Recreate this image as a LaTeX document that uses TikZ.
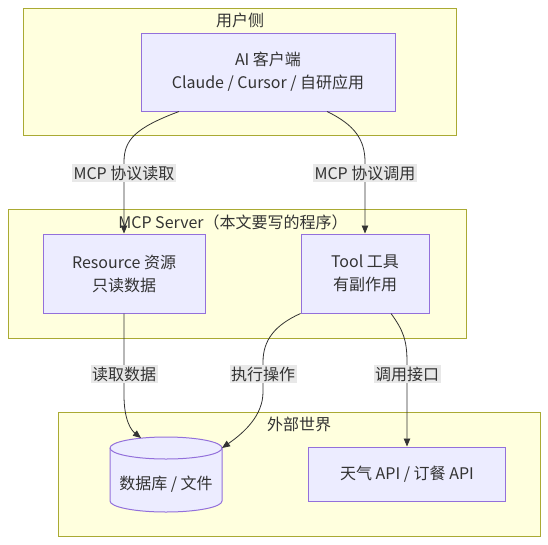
\documentclass[tikz,border=0pt]{standalone}
\usepackage{fontspec}
\setmainfont{Noto Sans CJK SC}
\usetikzlibrary{arrows.meta}
\definecolor{clusterfill}{HTML}{FFFFDE}
\definecolor{clusterline}{HTML}{AAAA33}
\definecolor{boxfill}{HTML}{ECECFF}
\definecolor{boxline}{HTML}{9370DB}
\definecolor{inkgray}{HTML}{333333}
\definecolor{labelfill}{HTML}{E8E8E8}

\tikzset{
  cluster/.style={draw=clusterline, fill=clusterfill, line width=1pt},
  box/.style={draw=boxline, fill=boxfill, line width=1pt, align=center, text=inkgray, inner sep=0pt},
  edge/.style={draw=inkgray, line width=0.8pt, -{Triangle[length=8pt,width=6.5pt]}},
  lbl/.style={fill=labelfill, text=inkgray, inner sep=1.5pt},
  title/.style={text=inkgray}
}

\begin{document}
\begin{tikzpicture}[x=1pt,y=1pt,yscale=-1,font=\fontsize{16}{23}\selectfont]
\useasboundingbox (0,0) rectangle (548,544);

%Shape: Rectangle [user side]
\draw[cluster] (23,8) rectangle (456,135);
%Shape: Rectangle [server]
\draw[cluster] (8,209) rectangle (466,338);
%Shape: Rectangle [outside world]
\draw[cluster] (58,412) rectangle (540,536);

% Text Node
\node[title] (usertitle) at (240,20) {用户侧};
\node[title] (servertitle) at (233,222) {MCP Server（本文要写的程序）};
\node[title] (worldtitle) at (299,424) {外部世界};

% Boxes
\node[box, minimum width=254pt, minimum height=78pt] (ai) at (268,72) {AI 客户端\\Claude / Cursor / 自研应用};
\node[box, minimum width=162pt, minimum height=79pt] (res) at (124,273.5) {Resource 资源\\只读数据};
\node[box, minimum width=128pt, minimum height=79pt] (tool) at (365,273.5) {Tool 工具\\有副作用};
\node[box, minimum width=197pt, minimum height=54pt] (api) at (407,474) {天气 API / 订餐 API};

%Shape: Cylinder
\filldraw[draw=boxline, fill=boxfill, line width=1pt] (110,448) -- (110,501) arc[start angle=180, end angle=0, x radius=56, y radius=11] -- (222,448) arc[start angle=0, end angle=-180, x radius=56, y radius=11] -- cycle;
\draw[draw=boxline, line width=1pt] (110,448) arc[start angle=180, end angle=0, x radius=56, y radius=11];
\node[text=inkgray] (db) at (166,484) {数据库 / 文件};
\coordinate (dbtop) at (141,438);
\coordinate (dbright) at (222,448);

%Curve Lines
\draw[edge] ([xshift=-89pt]ai.south) .. controls (135,128) and (124,140) .. (124,162) -- (res.north);
\draw[edge] ([xshift=59pt]ai.south) .. controls (355,125) and (365,140) .. (365,162) -- (tool.north);
\draw[edge] (res.south) -- (124,395) .. controls (124,420) and (131,430) .. (dbtop);
\draw[edge] (tool.south west) .. controls (275,325) and (263,340) .. (263,362) -- (263,392) .. controls (263,415) and (245,432) .. (dbright);
\draw[edge] ([xshift=26pt]tool.south) .. controls (403,330) and (407,340) .. (407,362) -- (api.north);

% Text Node
\node[lbl] (l1) at (124,173) {MCP 协议读取};
\node[lbl] (l2) at (365,173) {MCP 协议调用};
\node[lbl] (l3) at (124,374) {读取数据};
\node[lbl] (l4) at (263,374) {执行操作};
\node[lbl] (l5) at (407,374) {调用接口};

\end{tikzpicture}
\end{document}
